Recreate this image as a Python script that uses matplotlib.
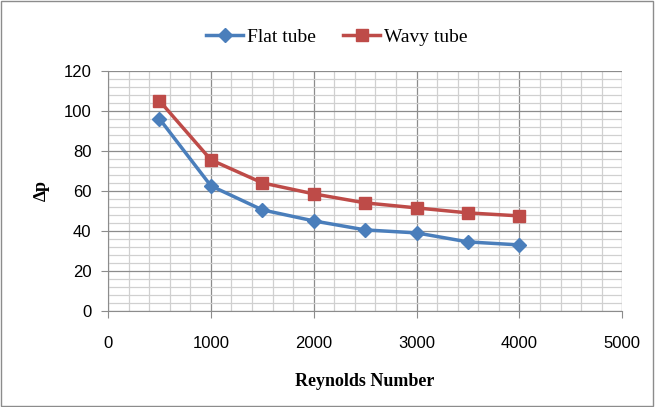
import numpy as np
import matplotlib.pyplot as plt
from matplotlib.patches import Rectangle
from matplotlib.ticker import MultipleLocator

re_num = [500, 1000, 1500, 2000, 2500, 3000, 3500, 4000]
dp_flat = [96, 62.5, 50.5, 45, 40.5, 39, 34.5, 33]
dp_wavy = [105, 75.5, 64, 58.5, 54, 51.5, 49, 47.5]

fig = plt.figure(figsize=(6.55, 4.07), dpi=100)
ax = fig.add_axes([0.165, 0.236, 0.785, 0.59])

ax.plot(re_num, dp_flat, color='#4a7ebb', lw=2.5, marker='D', ms=7, label='Flat tube')
ax.plot(re_num, dp_wavy, color='#be4b48', lw=2.5, marker='s', ms=9, label='Wavy tube')

ax.set_xlim(0, 5000)
ax.set_ylim(0, 120)
ax.xaxis.set_major_locator(MultipleLocator(1000))
ax.xaxis.set_minor_locator(MultipleLocator(200))
ax.yaxis.set_major_locator(MultipleLocator(20))
ax.yaxis.set_minor_locator(MultipleLocator(4))
ax.grid(which='major', color='#8c8c8c', lw=0.9)
ax.grid(which='minor', color='#d0d0d0', lw=0.9)
ax.set_axisbelow(True)

for s in ['top', 'right']:
    ax.spines[s].set_visible(False)
for s in ['left', 'bottom']:
    ax.spines[s].set_color('#8c8c8c')
ax.tick_params(which='major', length=5, color='#8c8c8c', labelsize=12, pad=7)
ax.tick_params(which='minor', length=0)
for lbl in ax.get_xticklabels() + ax.get_yticklabels():
    lbl.set_fontfamily('Liberation Sans')
ax.tick_params(axis='x', pad=13)

ax.set_xlabel('Reynolds Number', fontfamily='Liberation Serif', fontweight='bold', fontsize=13, labelpad=16)
ax.set_ylabel('\u2206p', fontfamily='Liberation Serif', fontweight='bold', fontsize=13, labelpad=10)

ax.legend(loc='lower center', bbox_to_anchor=(0.445, 1.03), ncol=2, frameon=False,
          prop={'family': 'Liberation Serif', 'size': 14}, handlelength=1.9, columnspacing=1.4,
          handletextpad=0.2)

fig.patches.append(Rectangle((0.002, 0.003), 0.995, 0.994, transform=fig.transFigure,
                             fill=False, edgecolor='#8c8c8c', lw=1))

fig.savefig('out.png', dpi=100)
